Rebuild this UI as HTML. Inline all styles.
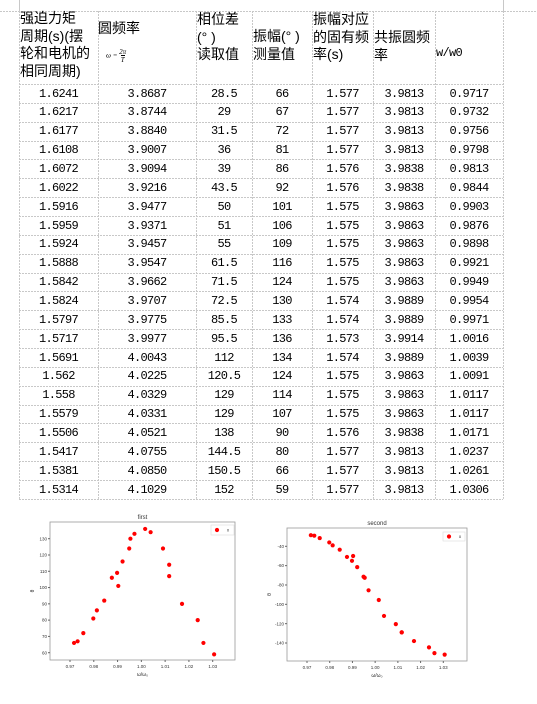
<!DOCTYPE html>
<html><head><meta charset="utf-8">
<style>
html,body{margin:0;padding:0;background:#fff;}
body{width:537px;height:704px;position:relative;overflow:hidden;font-family:"Liberation Sans","Noto Sans CJK SC",sans-serif;}
.h{position:absolute;font-size:14px;line-height:17.5px;color:#000;font-family:"Liberation Sans","Noto Sans CJK SC",sans-serif;white-space:nowrap;}
.c{position:absolute;font-family:"Liberation Mono",monospace;font-size:12px;letter-spacing:-0.7px;text-align:center;color:#000;line-height:18px;}
</style></head><body>
<svg id="grid" width="537" height="704" style="position:absolute;left:0;top:0"></svg>
<div class="h" style="left:20px;top:10px">强迫力矩<br>周期(s)(摆<br>轮和电机的<br>相同周期)</div>
<div class="h" style="left:98px;top:20px">圆频率</div>
<div class="h" style="left:106px;top:48px;font-size:7px;line-height:8px;font-style:italic;font-family:'Liberation Serif',serif">ω = <span style="display:inline-block;vertical-align:middle;text-align:center">2π<br><span style="border-top:1px solid #000">T</span></span></div>
<div class="h" style="left:197px;top:11px">相位差<br>(° )<br>读取值</div>
<div class="h" style="left:253px;top:28px">振幅(° )<br>测量值</div>
<div class="h" style="left:313px;top:11px">振幅对应<br>的固有频<br>率(s)</div>
<div class="h" style="left:374px;top:29px">共振圆频<br>率</div>
<div class="h" style="left:436px;top:45px;font-family:'Liberation Mono',monospace;font-size:12px;letter-spacing:-0.7px">w/w0</div>
<div id="cells"></div>
<svg id="chart1" width="537" height="704" style="position:absolute;left:0;top:0"></svg>
<script>
const periods=["1.6241","1.6217","1.6177","1.6108","1.6072","1.6022","1.5916","1.5959","1.5924","1.5888","1.5842","1.5824","1.5797","1.5717","1.5691","1.562","1.558","1.5579","1.5506","1.5417","1.5381","1.5314"];
const omegas=["3.8687","3.8744","3.8840","3.9007","3.9094","3.9216","3.9477","3.9371","3.9457","3.9547","3.9662","3.9707","3.9775","3.9977","4.0043","4.0225","4.0329","4.0331","4.0521","4.0755","4.0850","4.1029"];
const phases=[28.5,29,31.5,36,39,43.5,50,51,55,61.5,71.5,72.5,85.5,95.5,112,120.5,129,129,138,144.5,150.5,152];
const amps=[66,67,72,81,86,92,101,106,109,116,124,130,133,136,134,124,114,107,90,80,66,59];
const naturals=["1.577","1.577","1.577","1.577","1.576","1.576","1.575","1.575","1.575","1.575","1.575","1.574","1.574","1.573","1.574","1.575","1.575","1.575","1.576","1.577","1.577","1.577"];
const resonances=["3.9813","3.9813","3.9813","3.9813","3.9838","3.9838","3.9863","3.9863","3.9863","3.9863","3.9863","3.9889","3.9889","3.9914","3.9889","3.9863","3.9863","3.9863","3.9838","3.9813","3.9813","3.9813"];
const ratios=["0.9717","0.9732","0.9756","0.9798","0.9813","0.9844","0.9903","0.9876","0.9898","0.9921","0.9949","0.9954","0.9971","1.0016","1.0039","1.0091","1.0117","1.0117","1.0171","1.0237","1.0261","1.0306"];
const xTicks=[0.97,0.98,0.99,1.00,1.01,1.02,1.03];
const y1Ticks=[60,70,80,90,100,110,120,130];
const y2Ticks=[-40,-60,-80,-100,-120,-140];

const NS="http://www.w3.org/2000/svg";
const colX=[19,98,196,252,312,373,435,503];
const headTop=11,rowTop=84,rowH=18.86;
const grid=document.getElementById('grid');
function ln(svg,x1,y1,x2,y2,stroke,dash,w){const l=document.createElementNS(NS,'line');l.setAttribute('x1',x1);l.setAttribute('y1',y1);l.setAttribute('x2',x2);l.setAttribute('y2',y2);l.setAttribute('stroke',stroke);l.setAttribute('stroke-width',w||1);if(dash)l.setAttribute('stroke-dasharray',dash);svg.appendChild(l);return l;}
const n=periods.length;
const bottom=rowTop+n*rowH;
ln(grid,0,headTop+0.5,537,headTop+0.5,'#c8c8c8','2,1');
ln(grid,19.5,0,19.5,headTop,'#c8c8c8');
ln(grid,503.5,0,503.5,headTop,'#c8c8c8');
for(let i=0;i<=n;i++){const y=Math.round(rowTop+i*rowH)+0.5;ln(grid,19,y,503,y,'#c8c8c8','2,1');}
colX.forEach(x=>ln(grid,x+0.5,headTop,x+0.5,bottom,'#c8c8c8','2,1'));

const cells=document.getElementById('cells');
const cols=[periods,omegas,phases,amps,naturals,resonances,ratios];
const colNames=['period','omega','phase','amplitude','natural-freq','resonance-freq','ratio'];
for(let i=0;i<n;i++){for(let c=0;c<7;c++){const d=document.createElement('div');d.className='c';


d.style.left=colX[c]+'px';d.style.width=(colX[c+1]-colX[c])+'px';d.style.top=(rowTop+i*rowH+0.5)+'px';d.textContent=cols[c][i];cells.appendChild(d);}}

const svg=document.getElementById('chart1');
function txt(s,x,y,size,anchor,name,rot){const t=document.createElementNS(NS,'text');t.setAttribute('x',x);t.setAttribute('y',y);t.setAttribute('font-size',size);t.setAttribute('font-family','Liberation Sans, sans-serif');t.setAttribute('fill','#333');t.setAttribute('text-anchor',anchor||'middle');if(rot)t.setAttribute('transform','rotate(-90 '+x+' '+y+')');t.textContent=s;


svg.appendChild(t);return t;}
function chart(cfg){
 const {bx0,bx1,by0,by1,xa,xb,pxa,pxb,ya,yb,pya,pyb,ys,yt,title,id,leg}=cfg;
 const X=v=>pxa+(v-xa)*(pxb-pxa)/(xb-xa);
 const Y=v=>pya+(v-ya)*(pyb-pya)/(yb-ya);
 const r=document.createElementNS(NS,'rect');r.setAttribute('x',bx0);r.setAttribute('y',by0);r.setAttribute('width',bx1-bx0);r.setAttribute('height',by1-by0);r.setAttribute('fill','#fff');r.setAttribute('stroke','#999');r.setAttribute('stroke-width','0.8');
 
 
 svg.appendChild(r);
 txt(title,(bx0+bx1)/2,by0-3,6,'middle',id+'-title');
 xTicks.forEach(v=>{const x=X(v);ln(svg,x,by1,x,by1+2,'#666');txt(v.toFixed(2),x,by1+8,4.5,'middle',id+'-x-tick');});
 yt.forEach(v=>{const y=Y(v);ln(svg,bx0-2,y,bx0,y,'#666');txt(String(v),bx0-3,y+1.6,4.5,'end',id+'-y-tick');});
 txt('ω/ω₀',(bx0+bx1)/2,by1+16,5,'middle',id+'-x-axis-title');
 txt('θ',bx0-16,(by0+by1)/2,5,'middle',id+'-y-axis-title',true);
 for(let i=0;i<ratios.length;i++){const c=document.createElementNS(NS,'circle');c.setAttribute('cx',X(parseFloat(ratios[i])));c.setAttribute('cy',Y(ys[i]));c.setAttribute('r',2.1);c.setAttribute('fill','#f00');
 
 
 svg.appendChild(c);}
 const lr=document.createElementNS(NS,'rect');lr.setAttribute('x',leg[0]);lr.setAttribute('y',leg[1]);lr.setAttribute('width',leg[2]);lr.setAttribute('height',leg[3]);lr.setAttribute('fill','#fff');lr.setAttribute('stroke','#ddd');lr.setAttribute('stroke-width','0.6');
 
 
 svg.appendChild(lr);
 const lc=document.createElementNS(NS,'circle');lc.setAttribute('cx',leg[0]+6);lc.setAttribute('cy',leg[1]+leg[3]/2);lc.setAttribute('r',2.1);lc.setAttribute('fill','#f00');
 
 
 svg.appendChild(lc);
 txt('x',leg[0]+17,leg[1]+leg[3]/2+1.6,4.5,'middle',id+'-legend-label');
}
chart({bx0:50,bx1:235,by0:522,by1:660,xa:0.97,xb:1.03,pxa:70,pxb:212.7,ya:130,yb:60,pya:538.7,pyb:652.7,ys:amps,yt:y1Ticks,title:'first',id:'first',leg:[211,525,23,10]});
chart({bx0:287,bx1:467,by0:528,by1:661,xa:0.97,xb:1.03,pxa:307,pxb:443.3,ya:-40,yb:-140,pya:546.3,pyb:643,ys:phases.map(v=>-v),yt:y2Ticks,title:'second',id:'second',leg:[443,532,22,9]});
</script>
</body></html>
